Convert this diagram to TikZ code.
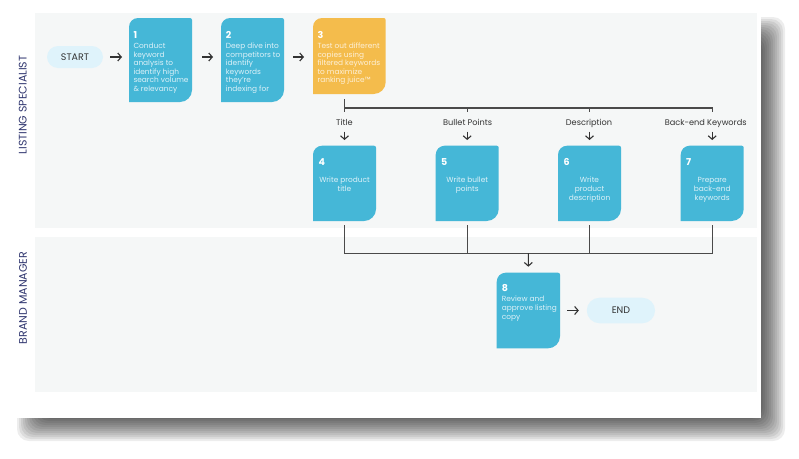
\documentclass[tikz,border=0pt]{standalone}
\usepackage{fontspec}
\setmainfont{Poppins}
\usetikzlibrary{arrows.meta}
\definecolor{boxblue}{HTML}{45B7D7}
\definecolor{boxorange}{HTML}{F4BC4C}
\definecolor{pillc}{HTML}{DFF3FB}
\definecolor{lanebg}{HTML}{F5F7F7}
\definecolor{ink}{HTML}{333333}
\definecolor{wirec}{HTML}{4A4A4A}
\definecolor{lanelabel}{HTML}{30366F}
\definecolor{btxt}{HTML}{DDF1F8}
\definecolor{otxt}{HTML}{FDF0D8}
\newcommand\fl{\rule{0pt}{6pt}}
\newcommand\cardshape[2]{%
  \fill[#2] ([xshift=9pt]#1.north west) -- ([xshift=-2pt]#1.north east)
    arc[start angle=90,end angle=0,radius=2pt] -- ([yshift=12pt]#1.south east)
    arc[start angle=0,end angle=-90,radius=12pt] -- (#1.south west)
    -- ([yshift=-9pt]#1.north west) arc[start angle=180,end angle=90,radius=9pt] -- cycle;}
\tikzset{
  card/.style={rectangle, inner sep=0pt, outer sep=0pt, anchor=north west},
  num/.style={anchor=base west, inner sep=0pt, font=\fontsize{9.5}{10}\selectfont\bfseries, text=white},
  body/.style={inner sep=0pt, font=\fontsize{7.4}{8.6}\selectfont, text=btxt},
  pill/.style={fill=pillc, rounded corners=11pt, inner sep=0pt, font=\fontsize{9.5}{10}\selectfont, text=ink},
  lab/.style={anchor=base, inner sep=0pt, font=\fontsize{8.2}{9}\selectfont, text=ink},
  lanelab/.style={rotate=90, inner sep=0pt, font=\fontsize{11}{12}\selectfont, text=lanelabel},
  arr/.style={draw=ink, line width=1.1pt, -{Straight Barb[length=3.5pt,width=8pt]}},
  wire/.style={draw=wirec, line width=1.3pt},
  wiret/.style={draw=wirec, line width=1pt},
}
\begin{document}
\begin{tikzpicture}[x=1pt,y=1pt]
\useasboundingbox (0,0) rectangle (799,-458);
% page shadow
\foreach \i in {0,...,11}
  \fill[black, opacity=0.07, rounded corners=12pt] ({17+2*\i},{-17-2*\i}) rectangle ({785-2*\i},{-441+2*\i});
\fill[white] (0,0) rectangle (761,-418);
% lanes
\fill[lanebg] (35,-13) rectangle (757,-227.7);
\fill[lanebg] (35,-236.7) rectangle (757,-392);
\node[lanelab] (lane1) at (22.7,-105) {LISTING SPECIALIST};
\node[lanelab] (lane2) at (23,-298) {BRAND MANAGER};
% cards
\node[card, minimum width=63pt, minimum height=84pt] (b1) at (129,-18) {};
\node[card, minimum width=63pt, minimum height=84pt] (b2) at (221,-18) {};
\node[card, minimum width=72.7pt, minimum height=76pt] (b3) at (313,-18) {};
\node[card, minimum width=63pt, minimum height=75.3pt] (b4) at (313,-145.7) {};
\node[card, minimum width=63pt, minimum height=75.3pt] (b5) at (435.7,-145.7) {};
\node[card, minimum width=63pt, minimum height=75.3pt] (b6) at (558,-145.7) {};
\node[card, minimum width=63pt, minimum height=75.3pt] (b7) at (680.7,-145.7) {};
\node[card, minimum width=63.3pt, minimum height=75.6pt] (b8) at (496.7,-272.7) {};
\cardshape{b1}{boxblue}
\cardshape{b2}{boxblue}
\cardshape{b3}{boxorange}
\cardshape{b4}{boxblue}
\cardshape{b5}{boxblue}
\cardshape{b6}{boxblue}
\cardshape{b7}{boxblue}
\cardshape{b8}{boxblue}
% card texts
\node[num] (n1) at (133.3,-38.5) {1};
\node[body, anchor=north west, align=left] (t1) at (133.3,-42.3) {\fl Conduct\\keyword\\analysis to\\identify high\\search volume\\\& relevancy};
\node[num] (n2) at (225.7,-38.5) {2};
\node[body, anchor=north west, align=left] (t2) at (225.7,-42.3) {\fl Deep dive into\\competitors to\\identify\\keywords\\they’re\\indexing for};
\node[num] (n3) at (317.3,-38.5) {3};
\node[body, anchor=north west, align=left, text=otxt] (t3) at (317.3,-42.3) {\fl Test out different\\copies using\\filtered keywords\\to maximize\\ranking juice™};
\node[num] (n4) at (318.3,-165) {4};
\node[body, anchor=north, align=center] (t4) at (344.5,-176.7) {\fl Write product\\title};
\node[num] (n5) at (441,-165) {5};
\node[body, anchor=north, align=center] (t5) at (467.2,-176.7) {\fl Write bullet\\points};
\node[num] (n6) at (563.3,-165) {6};
\node[body, anchor=north, align=center] (t6) at (589.5,-176.7) {\fl Write\\product\\description};
\node[num] (n7) at (686,-165) {7};
\node[body, anchor=north, align=center] (t7) at (712.2,-176.7) {\fl Prepare\\back-end\\keywords};
\node[num] (n8) at (501.7,-291.7) {8};
\node[body, anchor=north west, align=left] (t8) at (501.7,-295.7) {\fl Review and\\approve listing\\copy};
% terminals
\node[pill, minimum width=56pt, minimum height=22pt] (start) at (75,-57) {START};
\node[pill, minimum width=68.3pt, minimum height=25.6pt, rounded corners=12.8pt] (end) at (620.9,-310.5) {END};
% top-row arrows
\draw[arr, shorten <=7pt, shorten >=7pt] (start.east) -- (start.east -| b1.west);
\draw[arr, shorten <=10pt, shorten >=8pt] (start.east -| b1.east) -- (start.east -| b2.west);
\draw[arr, shorten <=9pt, shorten >=9pt] (start.east -| b2.east) -- (start.east -| b3.west);
% branch
\coordinate (top3) at (344.5,-99);
\coordinate (h4) at (344.5,-108);
\coordinate (h7) at (712.2,-108);
\coordinate (k4) at (344.5,-112);
\coordinate (k5) at (467.2,-112);
\coordinate (k6) at (589.5,-112);
\coordinate (k7) at (712.2,-112);
\draw[wire] (top3) -- (k4);
\draw[wire] (h4) -- (h7) -- (k7);
\draw[wire] (k5 |- h4) -- (k5);
\draw[wire] (k6 |- h4) -- (k6);
\node[lab] (l4) at (344.5,-125) {Title};
\node[lab] (l5) at (467.7,-125) {Bullet Points};
\node[lab] (l6) at (589,-125) {Description};
\node[lab] (l7) at (705.7,-125) {Back-end Keywords};
\coordinate (a4) at (344.5,-131.7);
\coordinate (a5) at (467.2,-131.7);
\coordinate (a6) at (589.5,-131.7);
\coordinate (a7) at (712.2,-131.7);
\draw[arr, shorten >=5.7pt] (a4) -- (b4.north);
\draw[arr, shorten >=5.7pt] (a5) -- (b5.north);
\draw[arr, shorten >=5.7pt] (a6) -- (b6.north);
\draw[arr, shorten >=5.7pt] (a7) -- (b7.north);
% merge
\coordinate (m) at (528.3,-253);
\draw[wiret, shorten <=4pt] (b4.south) |- (m);
\draw[wiret, shorten <=4pt] (b7.south) |- (m);
\draw[wiret, shorten <=4pt] (b5.south) -- (b5.south |- m);
\draw[wiret, shorten <=4pt] (b6.south) -- (b6.south |- m);
\draw[arr, shorten >=6pt] (m) -- (b8.north);
\draw[arr, shorten <=7pt, shorten >=7.7pt] (end.west -| b8.east) -- (end.west);
\end{tikzpicture}
\end{document}
